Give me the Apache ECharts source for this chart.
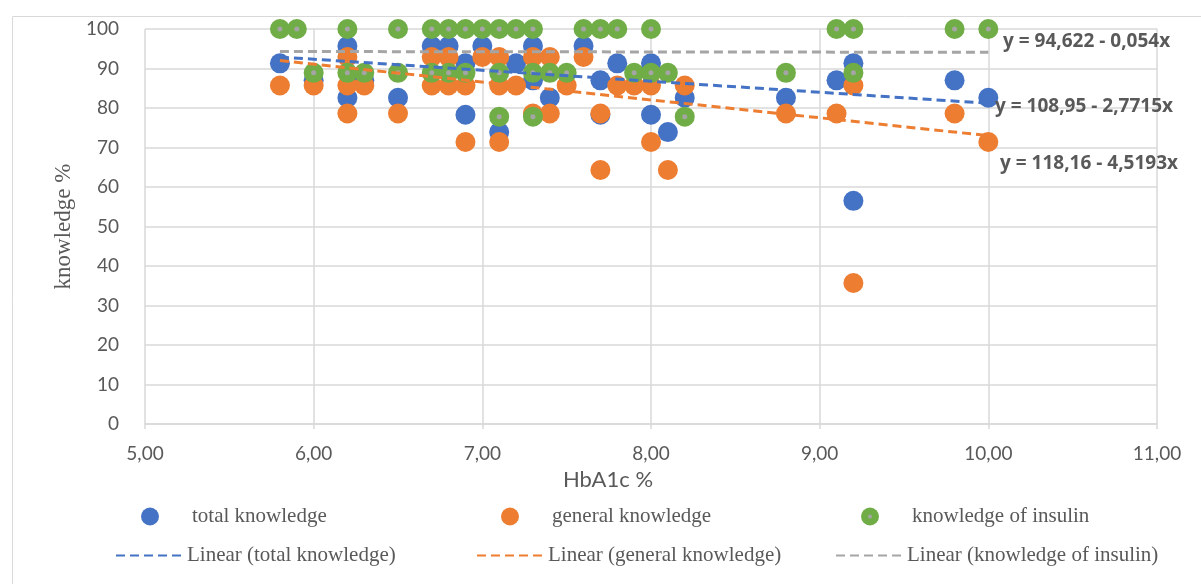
<!DOCTYPE html>
<html>
<head>
<meta charset="utf-8">
<script src="https://cdn.jsdelivr.net/npm/echarts@6/dist/echarts.min.js"></script>
<style>
html,body{margin:0;padding:0;background:#fff;}
#chart{width:1201px;height:584px;}
</style>
</head>
<body>
<div id="chart"></div>
<script>
// HbA1c % values (x) and knowledge % values (y)
const totalKnowledge = [
  [5.8,91.3],[6.0,87.0],[6.2,95.7],[6.2,82.6],[6.3,87.0],[6.5,82.6],[6.7,95.7],[6.8,95.7],
  [6.9,91.3],[6.9,78.3],[7.0,95.7],[7.1,73.9],[7.2,91.3],[7.3,95.7],[7.3,87.0],[7.4,82.6],
  [7.6,95.7],[7.7,87.0],[7.7,78.3],[7.8,91.3],[8.0,91.3],[8.0,78.3],[8.1,73.9],[8.2,82.6],
  [8.8,82.6],[9.1,87.0],[9.2,91.3],[9.2,56.5],[9.8,87.0],[10.0,82.6]
];
const generalKnowledge = [
  [5.8,85.7],[6.0,85.7],[6.2,92.9],[6.2,85.7],[6.2,78.6],[6.3,85.7],[6.5,78.6],[6.7,92.9],
  [6.7,85.7],[6.8,92.9],[6.8,85.7],[6.9,85.7],[6.9,71.4],[7.0,92.9],[7.1,92.9],[7.1,85.7],
  [7.1,71.4],[7.2,85.7],[7.3,92.9],[7.3,78.6],[7.4,92.9],[7.4,78.6],[7.5,85.7],[7.6,92.9],
  [7.7,78.6],[7.7,64.3],[7.8,85.7],[7.9,85.7],[8.0,85.7],[8.0,71.4],[8.1,64.3],[8.2,85.7],
  [8.8,78.6],[9.1,78.6],[9.2,85.7],[9.2,35.7],[9.8,78.6],[10.0,71.4]
];
const insulinKnowledge = [
  [5.8,100],[5.9,100],[6.0,88.9],[6.2,100],[6.2,88.9],[6.3,88.9],[6.5,100],[6.5,88.9],
  [6.7,100],[6.7,88.9],[6.8,100],[6.8,88.9],[6.9,100],[6.9,88.9],[7.0,100],[7.1,100],
  [7.1,88.9],[7.1,77.8],[7.2,100],[7.3,100],[7.3,88.9],[7.3,77.8],[7.4,88.9],[7.5,88.9],
  [7.6,100],[7.7,100],[7.8,100],[7.9,88.9],[8.0,100],[8.0,88.9],[8.1,88.9],[8.2,77.8],
  [8.8,88.9],[9.1,100],[9.2,100],[9.2,88.9],[9.8,100],[10.0,100]
];
// linear trend line endpoints (x = 5.8 and x = 10.0)
const trendTotal = [[5.8,92.9],[10.0,81.2]];
const trendGeneral = [[5.8,92.0],[10.0,73.0]];
const trendInsulin = [[5.8,94.3],[10.0,94.1]];
const equations = ['y = 94,622 - 0,054x','y = 108,95 - 2,7715x','y = 118,16 - 4,5193x'];
const seriesNames = ['total knowledge','general knowledge','knowledge of insulin',
  'Linear (total knowledge)','Linear (general knowledge)','Linear (knowledge of insulin)'];

const BLUE='#4472c4', ORANGE='#ed7d31', GREEN='#70ad47', GREY='#a5a5a5', TXT='#595959', GRID='#d9d9d9';
const sansFont='Lato', serifFont='Liberation Serif';

const chart = echarts.init(document.getElementById('chart'), null, {renderer:'canvas'});

function scatterLegend(name, left){
  return {data:[name], left:left, top:506, padding:0, orient:'horizontal', itemWidth:18, itemHeight:18,
    icon:'circle', selectedMode:false,
    textStyle:{fontFamily:serifFont, fontSize:21, color:TXT, padding:[0,0,0,28]}};
}
function lineLegend(name, left){
  return {data:[name], left:left, top:545, padding:0, orient:'horizontal', itemWidth:70, itemHeight:14,
    selectedMode:false, itemStyle:{opacity:0},
    textStyle:{fontFamily:serifFont, fontSize:21, color:TXT, padding:[0,0,0,-4]}};
}

const option = {
  animation:false,
  backgroundColor:'#fff',
  grid:{left:145, right:44, top:29, bottom:160, containLabel:false},
  xAxis:{
    type:'value', min:5, max:11, interval:1,
    name:'HbA1c %', nameLocation:'middle', nameGap:45,
    nameTextStyle:{fontFamily:sansFont, fontSize:22, color:TXT, padding:[0,86,0,0]},
    axisLine:{show:true, lineStyle:{color:GRID, width:1.5}},
    axisTick:{show:true, inside:false, length:5, lineStyle:{color:GRID, width:1.5}},
    axisLabel:{fontFamily:sansFont, fontSize:19, color:TXT, margin:20,
      formatter:v=>v.toFixed(2).replace('.',',')},
    splitLine:{show:true, lineStyle:{color:GRID, width:1.5}}
  },
  yAxis:{
    type:'value', min:0, max:100, interval:10,
    name:'knowledge %', nameLocation:'middle', nameGap:68, nameRotate:90,
    nameTextStyle:{fontFamily:serifFont, fontSize:23, color:TXT},
    axisLine:{show:false}, axisTick:{show:false},
    axisLabel:{fontFamily:sansFont, fontSize:19, color:TXT, margin:26},
    splitLine:{show:true, lineStyle:{color:GRID, width:1.5}}
  },
  legend:[
    scatterLegend(seriesNames[0],141), scatterLegend(seriesNames[1],501), scatterLegend(seriesNames[2],861),
    lineLegend(seriesNames[3],115), lineLegend(seriesNames[4],476), lineLegend(seriesNames[5],835)
  ],
  graphic:[
    {type:'rect', left:10, top:14, silent:true, z:-10,
      shape:{x:0.5,y:0.5,width:1200,height:580}, style:{fill:null, stroke:GRID, lineWidth:1}},
    {type:'circle', shape:{cx:870, cy:516.5, r:2}, style:{fill:GREY}, z:100, silent:true},
    {type:'text', left:1003, top:32, z:100, style:{text:equations[0], fontFamily:'Open Sans', fontWeight:'bold', fontSize:19, fill:TXT}},
    {type:'text', left:995, top:97, z:100, style:{text:equations[1], fontFamily:'Open Sans', fontWeight:'bold', fontSize:19, fill:TXT}},
    {type:'text', left:1000, top:154, z:100, style:{text:equations[2], fontFamily:'Open Sans', fontWeight:'bold', fontSize:19, fill:TXT}}
  ],
  series:[
    {name:seriesNames[0], type:'scatter', data:totalKnowledge, symbolSize:20, z:2,
      itemStyle:{color:BLUE, opacity:1}},
    {name:seriesNames[1], type:'scatter', data:generalKnowledge, symbolSize:20, z:3,
      itemStyle:{color:ORANGE, opacity:1}},
    {name:seriesNames[2], type:'scatter', data:insulinKnowledge, symbolSize:20, z:4,
      itemStyle:{color:GREEN, opacity:1}},
    {name:'insulin centre', type:'scatter', data:insulinKnowledge, symbolSize:5, z:5, silent:true,
      itemStyle:{color:GREY, opacity:1}},
    {name:seriesNames[3], type:'line', data:trendTotal, symbol:'none', z:6, color:BLUE,
      lineStyle:{color:BLUE, width:3, type:[9,5]}},
    {name:seriesNames[4], type:'line', data:trendGeneral, symbol:'none', z:6, color:ORANGE,
      lineStyle:{color:ORANGE, width:3, type:[9,5]}},
    {name:seriesNames[5], type:'line', data:trendInsulin, symbol:'none', z:6, color:GREY,
      lineStyle:{color:GREY, width:3, type:[9,5]}}
  ]
};
chart.setOption(option);
</script>
</body>
</html>
